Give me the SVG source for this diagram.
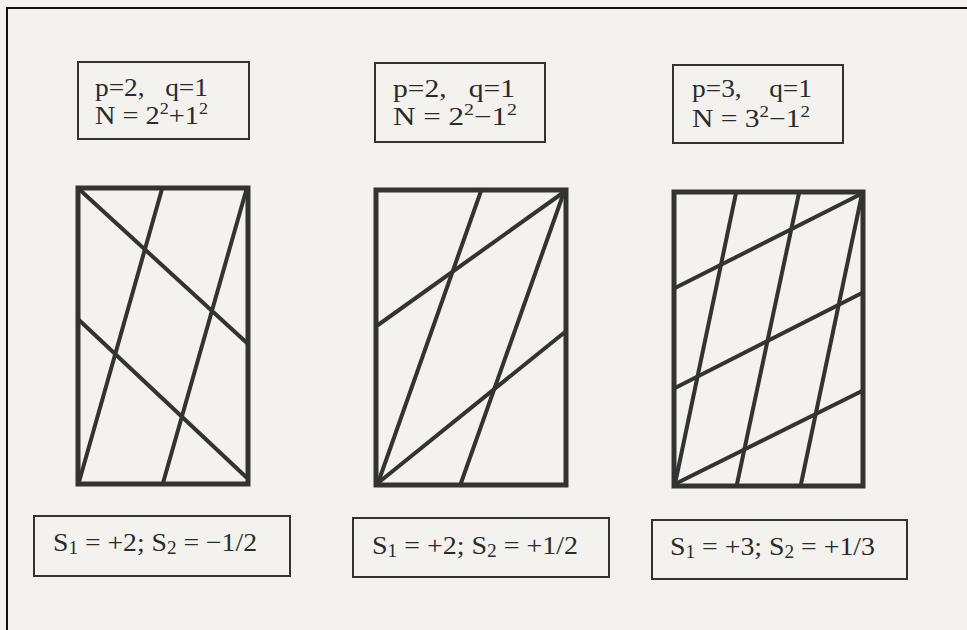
<svg xmlns="http://www.w3.org/2000/svg" width="967" height="630" viewBox="0 0 967 630">
<style>
.bg{fill:#f3f2ee}
.frame{fill:none;stroke:#111;stroke-width:2}
.box{fill:none;stroke:#333;stroke-width:2}
.rect{fill:none;stroke:#333;stroke-width:5}
.ln{stroke:#333;stroke-width:4;stroke-linecap:round}
.t{font-family:"Liberation Serif",serif;font-size:25px;fill:#2a2a2a}
.s{font-family:"Liberation Serif",serif;font-size:26px;fill:#2a2a2a}
.sup{font-size:16px}
.sub{font-size:18px}
</style>
<rect class="bg" x="0" y="0" width="967" height="630"/>
<path class="frame" d="M7,630 V8 H967"/>

<g id="label1">
<rect class="box" x="78" y="62" width="171" height="77"/>
<text class="t" x="95" y="96" textLength="113" lengthAdjust="spacingAndGlyphs" xml:space="preserve">p=2,   q=1</text>
<text class="t" x="95" y="124" textLength="113" lengthAdjust="spacingAndGlyphs">N = 2<tspan class="sup" dy="-10">2</tspan><tspan dy="10">+1</tspan><tspan class="sup" dy="-10">2</tspan></text>
</g>
<g id="label2">
<rect class="box" x="375" y="63" width="170" height="79"/>
<text class="t" x="393" y="97" textLength="122" lengthAdjust="spacingAndGlyphs" xml:space="preserve">p=2,   q=1</text>
<text class="t" x="393" y="125" textLength="124" lengthAdjust="spacingAndGlyphs">N = 2<tspan class="sup" dy="-10">2</tspan><tspan dy="10">−1</tspan><tspan class="sup" dy="-10">2</tspan></text>
</g>
<g id="label3">
<rect class="box" x="673" y="65" width="170" height="78"/>
<text class="t" x="692" y="97" textLength="120" lengthAdjust="spacingAndGlyphs" xml:space="preserve">p=3,    q=1</text>
<text class="t" x="692" y="127" textLength="118" lengthAdjust="spacingAndGlyphs">N = 3<tspan class="sup" dy="-10">2</tspan><tspan dy="10">−1</tspan><tspan class="sup" dy="-10">2</tspan></text>
</g>

<g id="panel1">
<rect class="rect" x="78" y="188" width="170" height="296"/>
<line class="ln" x1="80" y1="190" x2="247" y2="343"/>
<line class="ln" x1="79" y1="320" x2="246" y2="477"/>
<line class="ln" x1="79" y1="482" x2="162" y2="189"/>
<line class="ln" x1="163" y1="483" x2="246" y2="191"/>
</g>
<g id="panel2">
<rect class="rect" x="376" y="190" width="190" height="295"/>
<line class="ln" x1="378" y1="483" x2="481" y2="191"/>
<line class="ln" x1="461" y1="483" x2="564" y2="192"/>
<line class="ln" x1="378" y1="325" x2="564" y2="192"/>
<line class="ln" x1="378" y1="483" x2="565" y2="332"/>
</g>
<g id="panel3">
<rect class="rect" x="674" y="192" width="189" height="294"/>
<line class="ln" x1="675" y1="484" x2="736" y2="193"/>
<line class="ln" x1="737" y1="484" x2="799" y2="193"/>
<line class="ln" x1="801" y1="484" x2="862" y2="194"/>
<line class="ln" x1="675" y1="288" x2="861" y2="194"/>
<line class="ln" x1="675" y1="388" x2="862" y2="293"/>
<line class="ln" x1="675" y1="484" x2="862" y2="391"/>
</g>

<g id="result1">
<rect class="box" x="34" y="516" width="256" height="60"/>
<text class="s" x="53" y="551" textLength="204" lengthAdjust="spacingAndGlyphs">S<tspan class="sub" dy="3">1</tspan><tspan dy="-3"> = +2; S</tspan><tspan class="sub" dy="3">2</tspan><tspan dy="-3"> = −1/2</tspan></text>
</g>
<g id="result2">
<rect class="box" x="353" y="518" width="256" height="59"/>
<text class="s" x="372" y="554" textLength="206" lengthAdjust="spacingAndGlyphs">S<tspan class="sub" dy="3">1</tspan><tspan dy="-3"> = +2; S</tspan><tspan class="sub" dy="3">2</tspan><tspan dy="-3"> = +1/2</tspan></text>
</g>
<g id="result3">
<rect class="box" x="652" y="520" width="255" height="59"/>
<text class="s" x="670" y="555" textLength="205" lengthAdjust="spacingAndGlyphs">S<tspan class="sub" dy="3">1</tspan><tspan dy="-3"> = +3; S</tspan><tspan class="sub" dy="3">2</tspan><tspan dy="-3"> = +1/3</tspan></text>
</g>
</svg>
